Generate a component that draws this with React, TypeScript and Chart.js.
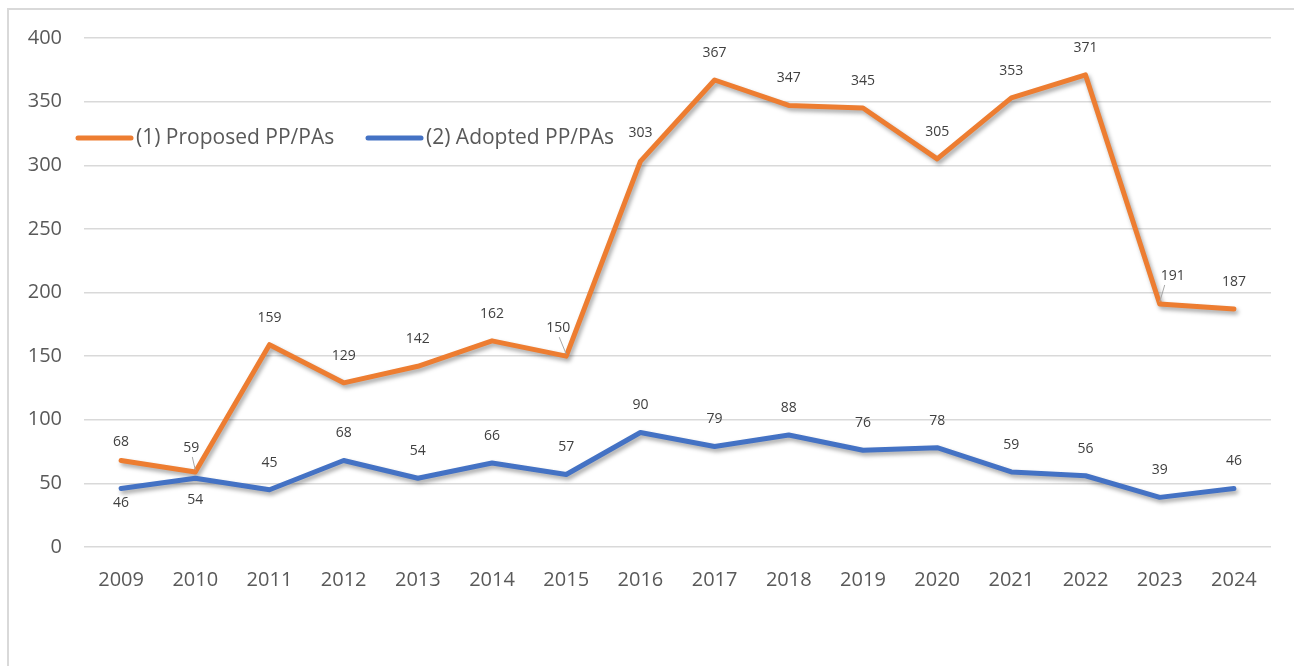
import React, { useEffect, useRef } from "react";
import { Chart, registerables } from "chart.js";

Chart.register(...registerables);

const years = ["2009","2010","2011","2012","2013","2014","2015","2016","2017","2018","2019","2020","2021","2022","2023","2024"];
const proposed = [68, 59, 159, 129, 142, 162, 150, 303, 367, 347, 345, 305, 353, 371, 191, 187];
const adopted = [46, 54, 45, 68, 54, 66, 57, 90, 79, 88, 76, 78, 59, 56, 39, 46];
const yTicks = [0, 50, 100, 150, 200, 250, 300, 350, 400];
const seriesNames = ["(1) Proposed PP/PAs", "(2) Adopted PP/PAs"];

const ORANGE = "#ED7D31";
const BLUE = "#4472C4";
const FONT = "'Open Sans', 'Noto Sans', sans-serif";

// label placement tweaks: index -> [dx, dy, leader]
const proposedAdjust: Record<number, [number, number, boolean]> = {
  0: [0, -18, false],
  1: [-4, -24, true],
  6: [-8, -28, true],
  7: [0, -28, false],
  14: [13, -28, true],
};
const adoptedAdjust: Record<number, [number, number, boolean]> = {
  0: [0, 15, false],
  1: [0, 22, false],
};

const shadowPlugin = {
  id: "lineShadow",
  beforeDatasetDraw(chart: any) {
    const ctx = chart.ctx;
    ctx.save();
    ctx.shadowColor = "rgba(0,0,0,0.35)";
    ctx.shadowBlur = 4;
    ctx.shadowOffsetX = 2;
    ctx.shadowOffsetY = 3;
  },
  afterDatasetDraw(chart: any) {
    chart.ctx.restore();
  },
};

const labelPlugin = {
  id: "valueLabels",
  afterDatasetsDraw(chart: any) {
    const ctx = chart.ctx;
    ctx.save();
    ctx.font = `14px ${FONT}`;
    ctx.fillStyle = "#404040";
    ctx.textAlign = "center";
    ctx.textBaseline = "middle";
    chart.data.datasets.forEach((ds: any, di: number) => {
      const meta = chart.getDatasetMeta(di);
      const adj = di === 0 ? proposedAdjust : adoptedAdjust;
      meta.data.forEach((pt: any, i: number) => {
        const a = adj[i] || [0, -27, false];
        const lx = pt.x + a[0];
        const ly = pt.y + a[1];
        if (a[2]) {
          ctx.save();
          ctx.strokeStyle = "#A6A6A6";
          ctx.lineWidth = 1;
          ctx.beginPath();
          const sy = a[1] < 0 ? ly + 9 : ly - 9;
          ctx.moveTo(lx + (a[0] > 0 ? -8 : 1), sy);
          ctx.lineTo(pt.x, pt.y - 2);
          ctx.stroke();
          ctx.restore();
        }
        ctx.fillText(String(ds.data[i]), lx, ly);
      });
    });
    ctx.restore();
  },
};

const legendPlugin = {
  id: "customLegend",
  afterDraw(chart: any) {
    const ctx = chart.ctx;
    ctx.save();
    ctx.font = `21px ${FONT}`;
    ctx.textBaseline = "middle";
    ctx.textAlign = "left";
    const y = 130;
    const items = [
      { x: 70, color: ORANGE, text: seriesNames[0] },
      { x: 360, color: BLUE, text: seriesNames[1] },
    ];
    items.forEach((it) => {
      ctx.strokeStyle = it.color;
      ctx.lineWidth = 5;
      ctx.lineCap = "round";
      ctx.beginPath();
      ctx.moveTo(it.x, y);
      ctx.lineTo(it.x + 53, y);
      ctx.stroke();
      ctx.fillStyle = "#595959";
      ctx.fillText(it.text, it.x + 58, y);
    });
    ctx.restore();
  },
};

export default function App() {
  const ref = useRef<HTMLCanvasElement>(null);
  useEffect(() => {
    if (!ref.current) return;
    const chart = new Chart(ref.current, {
      type: "line",
      data: {
        labels: years,
        datasets: [
          {
            label: seriesNames[0],
            data: proposed,
            borderColor: ORANGE,
            backgroundColor: ORANGE,
            borderWidth: 5,
            pointRadius: 0,
            borderCapStyle: "round",
            borderJoinStyle: "round",
            order: 1,
          },
          {
            label: seriesNames[1],
            data: adopted,
            borderColor: BLUE,
            backgroundColor: BLUE,
            borderWidth: 5,
            pointRadius: 0,
            borderCapStyle: "round",
            borderJoinStyle: "round",
            order: 0,
          },
        ],
      },
      options: {
        responsive: false,
        animation: false,
        layout: { padding: { top: 30, right: 15, bottom: 51, left: 0 } },
        plugins: { legend: { display: false }, tooltip: { enabled: false } },
        scales: {
          x: {
            offset: true,
            grid: { display: false },
            border: { display: false },
            ticks: { color: "#595959", font: { size: 20, family: FONT }, padding: 13, maxRotation: 0 },
            afterFit: (s: any) => { s.height = 50; },
          },
          y: {
            min: 0,
            max: 400,
            afterBuildTicks: (s: any) => { s.ticks = yTicks.map((v) => ({ value: v })); },
            grid: { color: "#D9D9D9", lineWidth: 1.5, drawTicks: false },
            border: { display: false },
            ticks: { color: "#595959", font: { size: 20, family: FONT }, padding: 22 },
            afterFit: (s: any) => {
              s.width = 76;
              s.paddingTop = 0;
              s.paddingBottom = 0;
            },
          },
        },
      },
      plugins: [shadowPlugin, labelPlugin, legendPlugin],
    });
    return () => chart.destroy();
  }, []);
  return (
    <>
      <div
        style={{
          position: "fixed",
          left: 7,
          top: 8,
          width: 1400,
          height: 800,
          borderLeft: "2px solid #D9D9D9",
          borderTop: "2px solid #D9D9D9",
          pointerEvents: "none",
        }}
      />
      <canvas ref={ref} width={1278} height={640} style={{ display: "block" }} />
    </>
  );
}
